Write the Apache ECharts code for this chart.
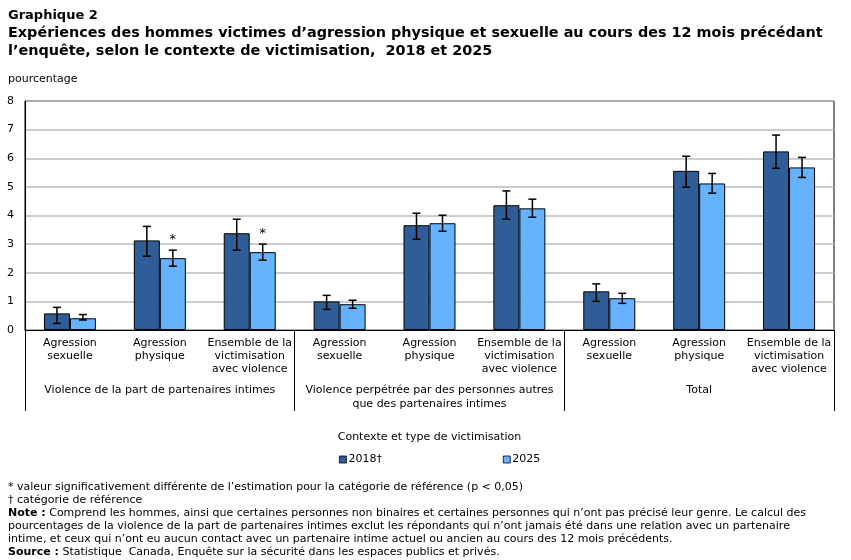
<!DOCTYPE html>
<html>
<head>
<meta charset="utf-8">
<script src="https://cdn.jsdelivr.net/npm/echarts@6/dist/echarts.min.js"></script>
<style>
html,body{margin:0;padding:0;background:#fff;}
#chart{width:851px;height:560px;}
</style>
</head>
<body>
<div id="chart"></div>
<script>
// ---- Data ----
const categories = [
  'Agression\nsexuelle', 'Agression\nphysique', 'Ensemble de la\nvictimisation\navec violence',
  'Agression\nsexuelle', 'Agression\nphysique', 'Ensemble de la\nvictimisation\navec violence',
  'Agression\nsexuelle', 'Agression\nphysique', 'Ensemble de la\nvictimisation\navec violence'
];
const groups = [
  'Violence de la part de partenaires intimes',
  'Violence perpétrée par des personnes autres\nque des partenaires intimes',
  'Total'
];
const seriesNames = ['2018†', '2025'];
const values2018 = [0.58, 3.13, 3.38, 1.00, 3.66, 4.36, 1.35, 5.56, 6.24];
const low2018    = [0.23, 2.58, 2.79, 0.72, 3.17, 3.87, 1.00, 4.99, 5.65];
const high2018   = [0.79, 3.62, 3.87, 1.21, 4.08, 4.86, 1.61, 6.07, 6.81];
const values2025 = [0.41, 2.51, 2.72, 0.90, 3.73, 4.25, 1.11, 5.12, 5.68];
const low2025    = [0.35, 2.23, 2.44, 0.76, 3.45, 3.94, 0.93, 4.78, 5.33];
const high2025   = [0.54, 2.79, 3.00, 1.04, 4.01, 4.57, 1.28, 5.47, 6.03];
const sig2025    = [0, 1, 1, 0, 0, 0, 0, 0, 0];
const yTicks = [0, 1, 2, 3, 4, 5, 6, 7, 8];

// ---- Styles ----
const FONT = '"DejaVu Sans", Verdana, sans-serif';
const BAR_W = 26;
const colors = ['#2F5D98', '#66B2FF'];

const errData = [];
values2018.forEach((v, i) => errData.push([i, low2018[i], high2018[i], 0, 0]));
values2025.forEach((v, i) => errData.push([i, low2025[i], high2025[i], 1, sig2025[i]]));

function renderErr(params, api) {
  const idx = api.value(0);
  const s = api.value(3);
  const off = (s === 0 ? -1 : 1) * BAR_W / 2;
  const pLow = api.coord([idx, api.value(1)]);
  const pHigh = api.coord([idx, api.value(2)]);
  const x = pLow[0] + off;
  const cap = 4;
  const st = { stroke: '#000', lineWidth: 1.5 };
  const children = [
    { type: 'line', shape: { x1: x, y1: pLow[1], x2: x, y2: pHigh[1] }, style: st },
    { type: 'line', shape: { x1: x - cap, y1: pLow[1], x2: x + cap, y2: pLow[1] }, style: st },
    { type: 'line', shape: { x1: x - cap, y1: pHigh[1], x2: x + cap, y2: pHigh[1] }, style: st }
  ];
  if (api.value(4)) {
    children.push({ type: 'text', style: { text: '*', x: x, y: pHigh[1] - 4, align: 'center', verticalAlign: 'bottom', font: '13px ' + FONT, fill: '#000' } });
  }
  return { type: 'group', children: children };
}

const chart = echarts.init(document.getElementById('chart'), null, { renderer: 'canvas' });
const gridPos = { left: 25, right: 17, top: 101, bottom: 230 };
chart.setOption({
  animation: false,
  backgroundColor: '#fff',
  textStyle: { fontFamily: FONT, color: '#000' },
  title: {
    text: '{a|Graphique 2}\n{b|Expériences des hommes victimes d’agression physique et sexuelle au cours des 12 mois précédant}\n{b|l’enquête, selon le contexte de victimisation,  2018 et 2025}',
    left: 8, top: 7, padding: 0,
    textStyle: {
      rich: {
        a: { fontFamily: FONT, fontSize: 13, fontWeight: 'bold', color: '#000', lineHeight: 18 },
        b: { fontFamily: FONT, fontSize: 14.4, fontWeight: 'bold', color: '#000', lineHeight: 17.5 }
      }
    }
  },
  legend: {
    data: seriesNames,
    left: 339, top: 454, padding: 0,
    itemWidth: 7, itemHeight: 7, itemGap: 121,
    icon: 'rect',
    itemStyle: { borderWidth: 0.8 },
    textStyle: { fontFamily: FONT, fontSize: 11, color: '#000', padding: [0, 0, 0, -3] }
  },
  grid: [
    Object.assign({ show: true, borderColor: '#000', borderWidth: 1, backgroundColor: 'transparent' }, gridPos),
    Object.assign({ show: false }, gridPos)
  ],
  xAxis: [
    {
      type: 'category', gridIndex: 0, data: categories,
      axisLine: { lineStyle: { color: '#000', width: 1 } },
      axisTick: { show: false },
      axisLabel: { interval: 0, margin: 7, fontFamily: FONT, fontSize: 11, color: '#000', lineHeight: 13 },
      name: 'Contexte et type de victimisation', nameLocation: 'middle', nameGap: 102,
      nameTextStyle: { fontFamily: FONT, fontSize: 11, color: '#000' }
    },
    {
      type: 'category', gridIndex: 1, data: groups,
      axisLine: { show: false },
      axisTick: { show: true, interval: 0, length: 81, lineStyle: { color: '#000', width: 1 } },
      axisLabel: { interval: 0, margin: 53, fontFamily: FONT, fontSize: 11, color: '#000', lineHeight: 14 }
    }
  ],
  yAxis: [
    {
      type: 'value', gridIndex: 0, min: yTicks[0], max: yTicks[yTicks.length - 1], interval: 1,
      axisLine: { show: true, lineStyle: { color: '#000' } },
      axisTick: { show: false },
      axisLabel: { margin: 11, fontFamily: FONT, fontSize: 11, color: '#000' },
      splitLine: { lineStyle: { color: '#BBBBBB', width: 1.5 } }
    },
    { type: 'value', gridIndex: 1, min: 0, max: 8, show: false, splitLine: { show: false } }
  ],
  graphic: [
    { type: 'text', left: 8, top: 74, style: { text: 'pourcentage', font: '11px ' + FONT, fill: '#000' } },
    { type: 'text', left: 8, top: 481, style: {
      text: '* valeur significativement différente de l’estimation pour la catégorie de référence (p < 0,05)\n† catégorie de référence\n{b|Note :} Comprend les hommes, ainsi que certaines personnes non binaires et certaines personnes qui n’ont pas précisé leur genre. Le calcul des\npourcentages de la violence de la part de partenaires intimes exclut les répondants qui n’ont jamais été dans une relation avec un partenaire\nintime, et ceux qui n’ont eu aucun contact avec un partenaire intime actuel ou ancien au cours des 12 mois précédents.\n{b|Source :} Statistique  Canada, Enquête sur la sécurité dans les espaces publics et privés.',
      font: '11px ' + FONT, fill: '#000', lineHeight: 13,
      rich: { b: { fontWeight: 'bold', fontFamily: FONT, fontSize: 11, lineHeight: 13 } }
    } }
  ],
  series: [
    { name: seriesNames[0], type: 'bar', xAxisIndex: 0, yAxisIndex: 0, data: values2018, barWidth: BAR_W, barGap: '0%',
      itemStyle: { color: colors[0], borderColor: '#000', borderWidth: 1 } },
    { name: seriesNames[1], type: 'bar', xAxisIndex: 0, yAxisIndex: 0, data: values2025, barWidth: BAR_W, barGap: '0%',
      itemStyle: { color: colors[1], borderColor: '#000', borderWidth: 1 } },
    { type: 'custom', xAxisIndex: 0, yAxisIndex: 0, data: errData, renderItem: renderErr, z: 10,
      encode: { x: 0, y: [1, 2] }, silent: true }
  ]
});
</script>
</body>
</html>
